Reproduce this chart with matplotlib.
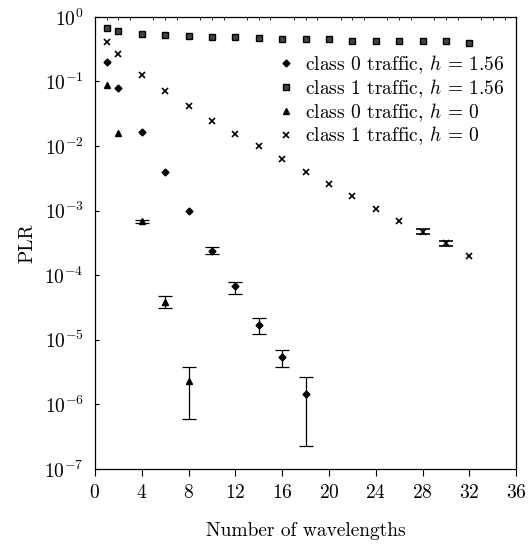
import numpy as np
import matplotlib
matplotlib.use("Agg")
import matplotlib.pyplot as plt
from matplotlib.lines import Line2D

plt.rcParams['font.family'] = ['cmr10', 'DejaVu Serif']
plt.rcParams['mathtext.fontset'] = 'cm'
plt.rcParams['axes.formatter.use_mathtext'] = True
plt.rcParams['axes.unicode_minus'] = False

nan = np.nan

# class 1 traffic, h = 1.56 (squares)
x_c1_h156 = [1, 2, 4, 6, 8, 10, 12, 14, 16, 18, 20, 22, 24, 26, 28, 30, 32]
y_c1_h156 = [0.67, 0.61, 0.55, 0.53, 0.51, 0.49, 0.48, 0.47, 0.46, 0.45, 0.45,
             0.43, 0.43, 0.42, 0.42, 0.42, 0.39]

# class 0 traffic, h = 1.56 (diamonds); nan = no visible error bar
x_c0_h156 = [1, 2, 4, 6, 8, 10, 12, 14, 16, 18]
y_c0_h156 = [0.20, 0.079, 0.0162, 0.0039, 1.0e-3, 2.4e-4, 6.7e-5, 1.7e-5, 5.4e-6, 1.46e-6]
lo_c0_h156 = [nan, nan, nan, nan, nan, 2.1e-4, 5.2e-5, 1.23e-5, 3.8e-6, 2.3e-7]
hi_c0_h156 = [nan, nan, nan, nan, nan, 2.75e-4, 7.8e-5, 2.14e-5, 6.9e-6, 2.65e-6]

# class 0 traffic, h = 0 (triangles)
x_c0_h0 = [1, 2, 4, 6, 8]
y_c0_h0 = [0.089, 0.0158, 6.8e-4, 3.8e-5, 2.26e-6]
lo_c0_h0 = [nan, nan, 6.5e-4, 3.1e-5, 5.9e-7]
hi_c0_h0 = [nan, nan, 7.1e-4, 4.7e-5, 3.8e-6]

# class 1 traffic, h = 0 (crosses)
x_c1_h0 = [1, 2, 4, 6, 8, 10, 12, 14, 16, 18, 20, 22, 24, 26, 28, 30, 32]
y_c1_h0 = [0.41, 0.27, 0.126, 0.071, 0.041, 0.0248, 0.0153, 0.0101, 0.0063, 0.0040,
           0.0026, 0.0017, 0.00105, 0.00070, 0.00047, 0.00031, 0.00020]
lo_c1_h0 = [nan] * 14 + [0.00043, 0.00028, nan]
hi_c1_h0 = [nan] * 14 + [0.00051, 0.00034, nan]


def yerr(y, lo, hi):
    y = np.array(y)
    return [y - np.array(lo), np.array(hi) - y]


fig = plt.figure(figsize=(5.3, 5.44), dpi=100)
ax = fig.add_axes([0.179, 0.138, 0.795, 0.831])

ebkw = dict(ls='none', ecolor='black', elinewidth=0.9, capsize=5, capthick=0.9)

styles = [
    dict(marker='D', ms=3.5, color='black'),
    dict(marker='s', ms=5, mfc='#444444', mec='black', mew=1.0, color='black'),
    dict(marker='^', ms=5, color='black'),
    dict(marker='x', ms=5, mew=1.2, color='black'),
]
labels = [r'class 0 traffic, $h$ = 1.56', r'class 1 traffic, $h$ = 1.56',
          r'class 0 traffic, $h$ = 0', r'class 1 traffic, $h$ = 0']

ax.errorbar(x_c0_h156, y_c0_h156, yerr=yerr(y_c0_h156, lo_c0_h156, hi_c0_h156),
            **styles[0], **ebkw)
ax.plot(x_c1_h156, y_c1_h156, ls='none', **styles[1])
ax.errorbar(x_c0_h0, y_c0_h0, yerr=yerr(y_c0_h0, lo_c0_h0, hi_c0_h0),
            **styles[2], **ebkw)
ax.errorbar(x_c1_h0, y_c1_h0, yerr=yerr(y_c1_h0, lo_c1_h0, hi_c1_h0),
            **styles[3], **ebkw)

ax.set_yscale('log')
ax.set_ylim(1e-7, 1)
ax.set_xlim(0, 36)
ax.set_xticks(range(0, 37, 4))
ax.set_yticks([10.0 ** k for k in range(-7, 1)])
ax.yaxis.set_minor_locator(matplotlib.ticker.NullLocator())
ax.xaxis.set_minor_locator(matplotlib.ticker.MultipleLocator(1))

ax.tick_params(axis='x', which='major', direction='out', length=5, width=0.8,
               labelsize=14, pad=6)
ax.tick_params(axis='x', which='minor', direction='in', length=2, top=True, bottom=False)
ax.tick_params(axis='y', which='major', direction='in', length=3, labelsize=14, pad=8)

for s in ax.spines.values():
    s.set_linewidth(0.9)
    s.set_linestyle((0, (2, 1)))

ax.set_xlabel('Number of wavelengths', fontsize=14, labelpad=14)
ax.set_ylabel('PLR', fontsize=14, labelpad=6)

handles = [Line2D([], [], ls='none', **st) for st in styles]
ax.legend(handles, labels, loc='upper right', bbox_to_anchor=(1.0, 0.945), frameon=False,
          fontsize=14, handlelength=0.8, handletextpad=0.6, labelspacing=0.05,
          borderaxespad=0.2)

fig.savefig('out.png', dpi=100)
